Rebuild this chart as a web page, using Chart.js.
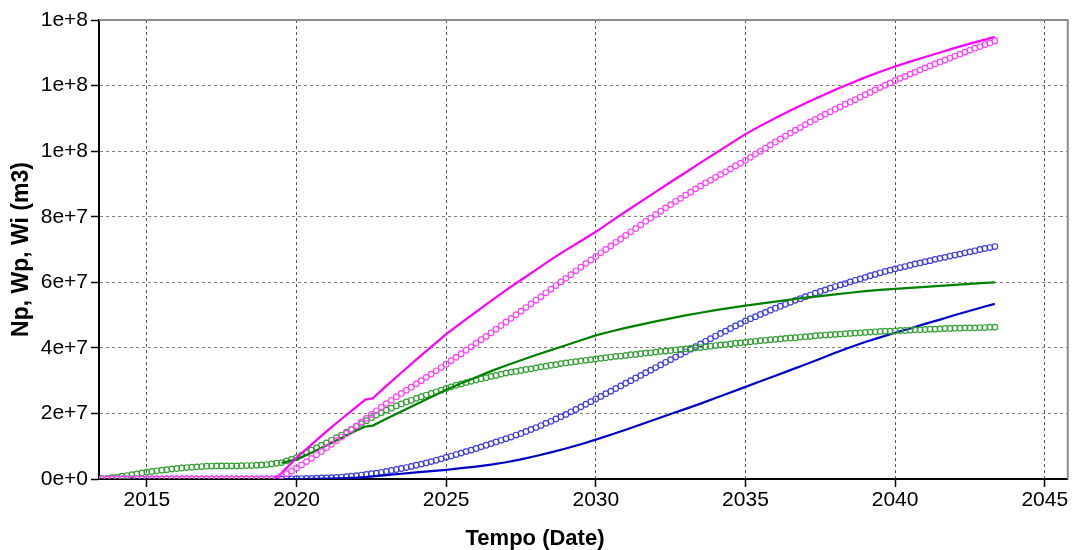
<!DOCTYPE html>
<html>
<head>
<meta charset="utf-8">
<script src="https://cdn.jsdelivr.net/npm/chart.js@4"></script>
<style>
  html, body { margin: 0; padding: 0; background: #fff; }
</style>
</head>
<body>
<canvas id="grafico" width="1073" height="550"></canvas>
<script>
// observed series: one sample every 2 months starting mid-2013 (values in 1e6 m3)
const T0 = 2013.5;
const yearTicks = [2015, 2020, 2025, 2030, 2035, 2040, 2045];

const wiObs = [
  0, 0, 0, 0, 0, 0,
  0, 0, 0, 0, 0, 0,
  0, 0, 0, 0, 0, 0,
  0, 0, 0, 0, 0, 0,
  0, 0, 0, 0, 0, 0,
  0, 0, 0, 0, 0, 0.2,
  0.9, 1.6, 2.4, 3.3, 4.3, 5.3,
  6.3, 7.4, 8.4, 9.5, 10.6, 11.7,
  12.8, 13.9, 15.1, 16.2, 17.4, 18.5,
  19.7, 20.8, 21.9, 23.0, 24.0, 25.1,
  26.1, 27.1, 28.0, 29.0, 30.0, 31.0,
  32.0, 33.0, 34.0, 35.0, 36.1, 37.1,
  38.2, 39.3, 40.3, 41.4, 42.5, 43.5,
  44.6, 45.7, 46.8, 47.9, 49.0, 50.1,
  51.2, 52.3, 53.4, 54.5, 55.6, 56.8,
  57.9, 59.0, 60.1, 61.2, 62.3, 63.5,
  64.6, 65.7, 66.8, 67.9, 69.0, 70.0,
  71.1, 72.2, 73.2, 74.3, 75.4, 76.4,
  77.5, 78.6, 79.6, 80.7, 81.7, 82.7,
  83.7, 84.7, 85.6, 86.6, 87.5, 88.5,
  89.4, 90.3, 91.1, 92.0, 92.9, 93.7,
  94.6, 95.5, 96.3, 97.2, 98.1, 99.1,
  100.0, 100.9, 101.9, 102.8, 103.7, 104.6,
  105.5, 106.4, 107.2, 108.1, 108.9, 109.7,
  110.5, 111.3, 112.0, 112.8, 113.5, 114.3,
  115.0, 115.7, 116.5, 117.2, 117.9, 118.7,
  119.4, 120.1, 120.8, 121.5, 122.2, 122.8,
  123.5, 124.1, 124.8, 125.4, 126.0, 126.6,
  127.2, 127.8, 128.4, 129.0, 129.6, 130.2,
  130.8, 131.4, 131.9, 132.5, 133.0, 133.6
];

const npObs = [
  0, 0.2, 0.4, 0.6, 0.85, 1.05,
  1.3, 1.55, 1.85, 2.1, 2.3, 2.5,
  2.7, 2.85, 3.05, 3.2, 3.35, 3.5,
  3.6, 3.7, 3.8, 3.9, 3.95, 4.0,
  4.0, 4.0, 4.0, 4.0, 4.05, 4.1,
  4.1, 4.2, 4.3, 4.4, 4.6, 4.8,
  5.0, 5.5, 6.0, 6.5, 7.3, 8.0,
  8.8, 9.5, 10.3, 11.0, 11.8, 12.6,
  13.4, 14.3, 15.1, 16.0, 16.9, 17.8,
  18.7, 19.5, 20.2, 21.0, 21.6, 22.3,
  22.9, 23.5, 24.0, 24.6, 25.1, 25.6,
  26.1, 26.6, 27.1, 27.6, 28.1, 28.6,
  29.0, 29.4, 29.8, 30.2, 30.6, 30.9,
  31.3, 31.6, 32.0, 32.3, 32.6, 32.8,
  33.1, 33.4, 33.6, 33.9, 34.2, 34.4,
  34.7, 34.9, 35.2, 35.4, 35.6, 35.8,
  36.0, 36.2, 36.4, 36.6, 36.8, 37.0,
  37.2, 37.4, 37.5, 37.7, 37.9, 38.0,
  38.2, 38.4, 38.5, 38.7, 38.9, 39.0,
  39.2, 39.4, 39.5, 39.7, 39.8, 40.0,
  40.1, 40.3, 40.5, 40.7, 40.9, 41.0,
  41.2, 41.4, 41.5, 41.7, 41.9, 42.0,
  42.2, 42.3, 42.5, 42.6, 42.7, 42.9,
  43.0, 43.1, 43.3, 43.4, 43.5, 43.7,
  43.8, 43.9, 44.0, 44.1, 44.2, 44.3,
  44.4, 44.5, 44.6, 44.7, 44.8, 44.9,
  45.0, 45.1, 45.1, 45.2, 45.3, 45.3,
  45.4, 45.5, 45.5, 45.6, 45.7, 45.7,
  45.8, 45.9, 45.9, 46.0, 46.0, 46.1,
  46.1, 46.1, 46.2, 46.2, 46.3, 46.3
];

const wpObs = [
  0, 0, 0, 0, 0, 0,
  0, 0, 0, 0, 0, 0,
  0, 0, 0, 0, 0, 0,
  0, 0, 0, 0, 0, 0,
  0, 0, 0, 0, 0, 0,
  0, 0, 0, 0, 0, 0,
  0, 0.03, 0.06, 0.1, 0.13, 0.17,
  0.2, 0.25, 0.3, 0.35, 0.43, 0.5,
  0.6, 0.73, 0.86, 1.0, 1.2, 1.4,
  1.6, 1.8, 2.05, 2.3, 2.6, 2.9,
  3.2, 3.5, 3.85, 4.2, 4.55, 4.9,
  5.3, 5.7, 6.15, 6.6, 7.0, 7.45,
  7.9, 8.35, 8.8, 9.3, 9.8, 10.3,
  10.8, 11.3, 11.8, 12.3, 12.8, 13.4,
  13.9, 14.5, 15.1, 15.7, 16.3, 17.0,
  17.6, 18.3, 19.0, 19.7, 20.5, 21.2,
  22.0, 22.8, 23.6, 24.4, 25.2, 26.0,
  26.8, 27.6, 28.4, 29.2, 30.0, 30.8,
  31.6, 32.4, 33.2, 34.0, 34.8, 35.6,
  36.4, 37.2, 38.0, 38.8, 39.6, 40.4,
  41.2, 42.0, 42.8, 43.6, 44.4, 45.1,
  45.9, 46.7, 47.4, 48.2, 48.9, 49.5,
  50.2, 50.8, 51.5, 52.1, 52.7, 53.3,
  53.9, 54.5, 55.0, 55.6, 56.1, 56.7,
  57.2, 57.7, 58.2, 58.7, 59.2, 59.6,
  60.1, 60.6, 61.0, 61.5, 62.0, 62.4,
  62.9, 63.3, 63.7, 64.1, 64.5, 64.8,
  65.2, 65.6, 65.9, 66.3, 66.6, 67.0,
  67.3, 67.6, 68.0, 68.3, 68.6, 69.0,
  69.3, 69.6, 70.0, 70.3, 70.6, 70.9
];

// simulated series (solid lines), from 2019 on
const simYears = [
  2019.25, 2019.5, 2020, 2020.5, 2021, 2021.5, 2022, 2022.3, 2022.55,
  2023, 2023.5, 2024, 2024.5, 2025, 2025.5, 2026, 2026.5, 2027, 2027.5,
  2028, 2028.5, 2029, 2029.5, 2030, 2030.5, 2031, 2031.5, 2032, 2032.5,
  2033, 2033.5, 2034, 2034.5, 2035, 2035.5, 2036, 2036.5, 2037, 2037.5,
  2038, 2038.5, 2039, 2039.5, 2040, 2040.5, 2041, 2041.5, 2042, 2042.5,
  2043, 2043.33
];
const wiSim = [
  0, 1.8, 6.5, 10.5, 14.5, 18.3, 22.0, 24.2, 24.6,
  28.4, 32.4, 36.4, 40.3, 44.2, 47.6, 51.0, 54.3, 57.6, 60.7,
  63.8, 66.9, 69.8, 72.6, 75.4, 78.5, 81.6, 84.6, 87.6, 90.6,
  93.5, 96.5, 99.4, 102.3, 105.2, 107.7, 110.1, 112.4, 114.6, 116.7,
  118.7, 120.6, 122.5, 124.2, 125.8, 127.3, 128.7, 130.1, 131.5, 132.8,
  134.0, 134.9
];
const npSim = [
  null, 4.9, 6.0, 8.0, 10.2, 12.5, 14.8, 16.0, 16.3,
  18.4, 20.6, 22.8, 25.0, 27.2, 29.2, 31.0, 32.9, 34.6, 36.2,
  37.8, 39.3, 40.8, 42.3, 43.8, 45.0, 46.1, 47.1, 48.1, 49.0,
  49.9, 50.7, 51.5, 52.2, 52.9, 53.5, 54.1, 54.7, 55.3, 55.8,
  56.3, 56.8, 57.3, 57.7, 58.0, 58.3, 58.6, 58.9, 59.2, 59.5,
  59.8, 60.0
];
const wpSim = [
  null, 0, 0, 0.05, 0.1, 0.2, 0.4, 0.6, 0.8,
  1.2, 1.6, 2.0, 2.4, 2.8, 3.3, 3.8, 4.4, 5.1, 6.0,
  7.0, 8.1, 9.3, 10.6, 12.0, 13.5, 15.0, 16.6, 18.2, 19.8,
  21.4, 23.0, 24.7, 26.4, 28.1, 29.8, 31.5, 33.2, 34.9, 36.7,
  38.5, 40.2, 41.8, 43.2, 44.6, 45.9, 47.3, 48.6, 50.0, 51.3,
  52.6, 53.4
];

const obsPoints = arr => arr.map((v, i) => ({ x: T0 + i / 6, y: v }));
const simPoints = arr => simYears.map((x, i) => ({ x, y: arr[i] }));

function circles(data, color) {
  return {
    data: obsPoints(data),
    showLine: false,
    pointStyle: 'circle',
    pointRadius: 2.8,
    pointBorderWidth: 1.2,
    pointBorderColor: color,
    pointBackgroundColor: 'rgba(0,0,0,0)',
    borderColor: color
  };
}
function line(data, color) {
  return {
    data: simPoints(data),
    showLine: true,
    borderColor: color,
    borderWidth: 2.2,
    pointRadius: 0,
    tension: 0,
    spanGaps: false
  };
}

// grey frame on top/right of the plot area
const frame = {
  id: 'frame',
  beforeDatasetsDraw(chart) {
    const { ctx, chartArea: a } = chart;
    ctx.save();
    ctx.strokeStyle = '#8c8c8c';
    ctx.lineWidth = 2;
    ctx.beginPath();
    ctx.moveTo(a.left, a.top);
    ctx.lineTo(a.right, a.top);
    ctx.lineTo(a.right, a.bottom);
    ctx.stroke();
    ctx.restore();
  }
};

const fam = 'Arial, "Liberation Sans", sans-serif';
const font = { family: fam, size: 21 };

new Chart(document.getElementById('grafico'), {
  type: 'scatter',
  data: {
    datasets: [
      circles(wiObs, '#ff40ff'),
      line(wiSim, '#ff00ff'),
      line(npSim, '#008000'),
      circles(npObs, '#30a030'),
      line(wpSim, '#0000c8'),
      circles(wpObs, '#3c3ce0')
    ]
  },
  plugins: [frame],
  options: {
    responsive: false,
    animation: false,
    layout: { padding: { top: 20, right: 3, left: 0, bottom: 0 } },
    plugins: {
      legend: { display: false },
      tooltip: { enabled: false },
      // x-axis caption, centred on the whole canvas
      title: {
        display: true,
        position: 'bottom',
        text: 'Tempo (Date)',
        color: '#000',
        font: { family: fam, size: 22, weight: 'bold', lineHeight: 1 },
        padding: { top: 0, bottom: 0 }
      }
    },
    scales: {
      x: {
        type: 'linear',
        min: 2013.4,
        max: 2045.77,
        afterBuildTicks: s => { s.ticks = yearTicks.map(v => ({ value: v })); },
        afterFit: s => { s.height = 49; },
        ticks: { color: '#000', font, padding: 1, callback: v => String(v) },
        grid: {
          color: '#555',
          lineWidth: 1,
          tickColor: '#000',
          tickLength: 8,
          tickWidth: 1.5
        },
        border: { color: '#000', width: 2, dash: [3, 3] }
      },
      y: {
        min: 0,
        max: 140,
        ticks: {
          stepSize: 20,
          color: '#000',
          font,
          padding: 3,
          callback: v => (v * 1e6).toExponential(0)
        },
        afterFit: s => { s.width = 99; },
        grid: {
          color: '#808080',
          lineWidth: 1,
          tickColor: '#000',
          tickLength: 8,
          tickWidth: 1.5
        },
        border: { color: '#000', width: 2, dash: [3, 3] },
        title: {
          display: true,
          text: 'Np, Wp, Wi (m3)',
          color: '#000',
          font: { family: fam, size: 23, weight: 'bold' },
          padding: { top: 8, bottom: 0 }
        }
      }
    }
  }
});
</script>
</body>
</html>
